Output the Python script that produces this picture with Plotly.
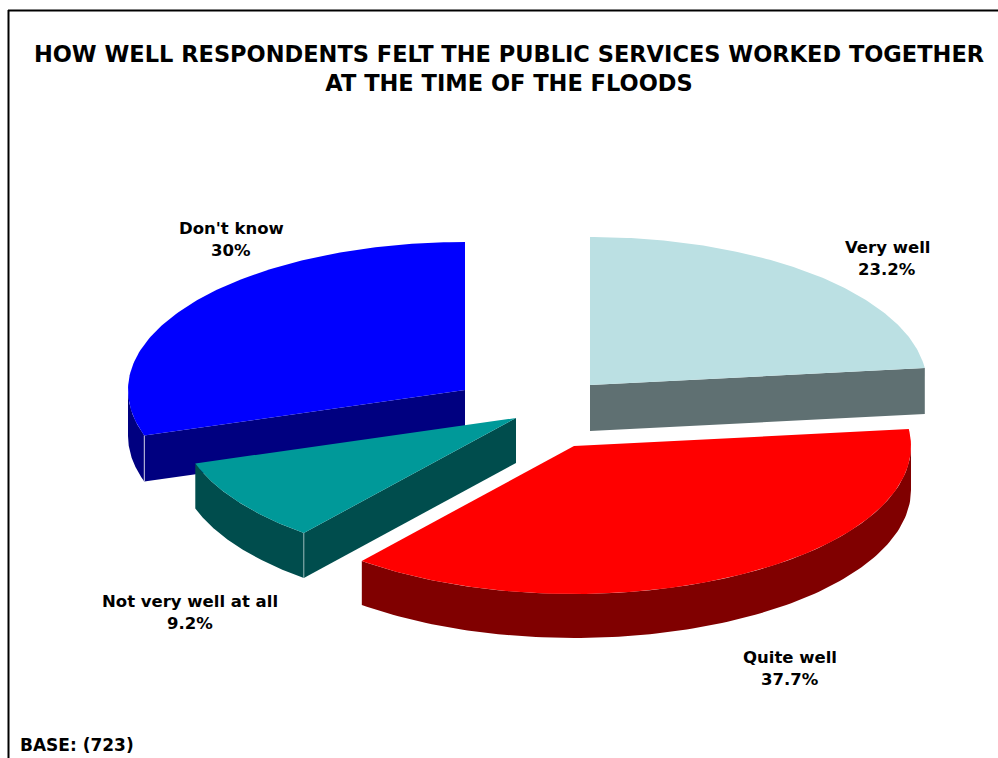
import numpy as np
import plotly.graph_objects as go

# Data
categories = ["Very well", "Quite well", "Not very well at all", "Don't know"]
values = [23.2, 37.7, 9.2, 30]
value_labels = ["23.2%", "37.7%", "9.2%", "30%"]
title_lines = ["HOW WELL RESPONDENTS FELT THE PUBLIC SERVICES WORKED TOGETHER",
               "AT THE TIME OF THE FLOODS"]
base_note = "BASE: (723)"

# Styles and layout
top_colors = ["#BBE0E3", "#FF0000", "#009999", "#0000FF"]
wall_colors = ["#5F7072", "#800000", "#004D4D", "#000080"]
seam_colors = [None, None, "#8FB3B3", "#C8C8E0"]
apexes = [(590, 385), (574, 446), (516, 418), (465, 390)]
depths = [46, 44, 45, 46]
RX, RY = 337, 148
label_pos = [(887, 247, 269), (790, 657, 679), (190, 601, 623), (231, 228, 250)]
LABEL_FONT = dict(family="DejaVu Sans", size=16.5, color="#000000", weight="bold")

total = sum(values)
bounds = np.concatenate([[0], np.cumsum(values)]) / total * 360.0


def arc(apex, a0, a1, n=120):
    t = np.radians(np.linspace(a0, a1, n))
    return apex[0] + RX * np.sin(t), apex[1] - RY * np.cos(t)


def poly(fig, x, y, color):
    fig.add_trace(go.Scatter(x=list(x), y=list(y), mode="lines", fill="toself",
                             fillcolor=color, line=dict(width=0, color=color),
                             hoverinfo="skip", showlegend=False))


fig = go.Figure()
for i in [3, 2, 1, 0]:
    a0, a1 = bounds[i], bounds[i + 1]
    apex, d = apexes[i], depths[i]
    # cut faces that look toward the viewer
    for ang, visible in ((a0, np.sin(np.radians(a0)) < 0), (a1, np.sin(np.radians(a1)) > 0)):
        if visible:
            ex, ey = arc(apex, ang, ang, 1)
            poly(fig, [apex[0], ex[0], ex[0], apex[0], apex[0]],
                 [apex[1], ey[0], ey[0] + d, apex[1] + d, apex[1]], wall_colors[i])
    # outer rim, front half only
    lo, hi = max(a0, 90), min(a1, 270)
    if hi > lo:
        ax, ay = arc(apex, lo, hi)
        poly(fig, np.r_[ax, ax[::-1], ax[0]], np.r_[ay, ay[::-1] + d, ay[0]], wall_colors[i])
    # seam
    if seam_colors[i]:
        sx, sy = arc(apex, a0, a0, 1)
        fig.add_trace(go.Scatter(x=[sx[0], sx[0]], y=[sy[0], sy[0] + d], mode="lines",
                                 line=dict(width=1, color=seam_colors[i]),
                                 hoverinfo="skip", showlegend=False))
    # top face
    tx, ty = arc(apex, a0, a1)
    poly(fig, np.r_[apex[0], tx, apex[0]], np.r_[apex[1], ty, apex[1]], top_colors[i])

annotations = []
for cat, val, (lx, y1, y2) in zip(categories, value_labels, label_pos):
    for txt, yy in ((cat, y1), (val, y2)):
        annotations.append(dict(x=lx, y=yy, xref="x", yref="y", text=txt, showarrow=False,
                                xanchor="center", yanchor="middle", font=LABEL_FONT))
annotations.append(dict(x=18, y=745, xref="x", yref="y", text=base_note, showarrow=False,
                        xanchor="left", yanchor="middle",
                        font=dict(family="DejaVu Sans", size=17, color="#000000", weight="bold")))

fig.update_layout(
    width=998, height=758, autosize=False, margin=dict(l=0, r=0, t=0, b=0),
    paper_bgcolor="white", plot_bgcolor="white", showlegend=False,
    title=dict(text="<br>".join(title_lines), x=509 / 998, xanchor="center", xref="paper",
               y=1 - 62 / 758, yanchor="middle", yref="container",
               font=dict(family="DejaVu Sans", size=22.5, color="#000000", weight="bold")),
    xaxis=dict(range=[0, 998], visible=False, fixedrange=True),
    yaxis=dict(range=[758, 0], visible=False, fixedrange=True),
    annotations=annotations,
    shapes=[
        dict(type="line", x0=8.5, x1=8.5, y0=10, y1=758, xref="x", yref="y", line=dict(color="#000000", width=2)),
        dict(type="line", x0=8, x1=998, y0=10.5, y1=10.5, xref="x", yref="y", line=dict(color="#000000", width=2)),
    ],
)

fig.write_html("out.html", post_script="document.body.style.margin='0';document.body.style.overflow='hidden';",
               config={"displayModeBar": False})
